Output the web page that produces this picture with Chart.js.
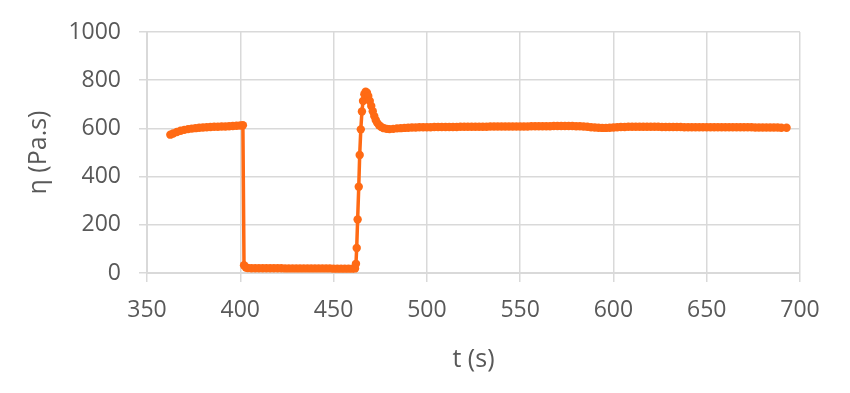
<!DOCTYPE html>
<html>
<head>
<meta charset="utf-8">
<script src="https://cdn.jsdelivr.net/npm/chart.js@4/dist/chart.umd.min.js"></script>
<style>
  html, body { margin: 0; padding: 0; background: #ffffff; }
  #wrap { width: 850px; height: 393px; position: relative; }
</style>
</head>
<body>
<div id="wrap"><canvas id="c" width="850" height="393"></canvas></div>
<script>
// Time (s) readings of the viscosity curve
const timeValues = [
  362.5, 364, 366, 368, 370, 372, 374, 376, 378, 380, 382, 384, 386, 388, 390, 392, 394, 396, 398, 400, 401.4,
  402.0, 403, 404, 406, 408, 410, 412, 414, 416, 418, 420, 422, 424, 426, 428, 430, 432, 434, 436, 438, 440,
  442, 444, 446, 448, 450, 452, 454, 456, 458, 460, 461.5,
  462.0, 462.4, 462.9, 463.5, 464.0, 464.6, 465.2, 465.8, 466.5, 467.2, 467.9, 468.6, 469.4, 470.2, 471.0,
  471.8, 472.6, 473.4, 474.4, 475.6, 477, 478.5, 480, 482, 484, 486, 488,
  490, 492, 494, 496, 498, 500, 502, 504, 506, 508, 510, 512, 514, 516, 518, 520, 522, 524, 526, 528,
  530, 532, 534, 536, 538, 540, 542, 544, 546, 548, 550, 552, 554, 556, 558, 560, 562, 564, 566, 568,
  570, 572, 574, 576, 578, 580, 582, 584, 586, 588, 590, 592, 594, 596, 598, 600, 602, 604, 606, 608,
  610, 612, 614, 616, 618, 620, 622, 624, 626, 628, 630, 632, 634, 636, 638, 640, 642, 644, 646, 648,
  650, 652, 654, 656, 658, 660, 662, 664, 666, 668, 670, 672, 674, 676, 678, 680, 682, 684, 686, 688,
  690, 692.8
];
// Viscosity η (Pa.s) readings
const etaValues = [
  574, 579, 585, 590, 594, 597, 599, 601, 603, 604, 605, 606, 607, 607, 608, 608, 609, 610, 611, 612, 613,
  32, 23, 21, 20, 20, 20, 20, 20, 20, 20, 20, 20, 19, 19, 19, 19, 19, 19, 19, 19, 19,
  19, 19, 19, 19, 18, 18, 18, 18, 18, 18, 19,
  38, 104, 222, 358, 490, 596, 670, 714, 742, 752, 748, 734, 714, 693, 671,
  651, 635, 623, 613, 606, 601, 598, 597, 598, 600, 601, 602,
  603, 604, 604, 605, 605, 605, 605, 606, 606, 606, 606, 606, 606, 606, 607, 607, 607, 607, 607, 607,
  607, 607, 608, 608, 608, 608, 608, 608, 608, 608, 608, 608, 608, 609, 609, 609, 609, 609, 609, 610,
  610, 610, 610, 610, 610, 609, 609, 608, 607, 605, 604, 603, 602, 602, 603, 604, 605, 606, 606, 607,
  607, 607, 607, 607, 607, 607, 607, 607, 606, 606, 606, 606, 606, 606, 605, 605, 605, 605, 605, 605,
  605, 605, 605, 605, 605, 605, 605, 605, 605, 605, 605, 605, 605, 604, 604, 604, 604, 604, 604, 604,
  603, 603
];
const xTicks = [350, 400, 450, 500, 550, 600, 650, 700];
const yTicks = [0, 200, 400, 600, 800, 1000];

const points = timeValues.map((t, i) => ({ x: t, y: etaValues[i] }));

const orange = '#FF6A14';
const gridGray = '#d9d9d9';
const textGray = '#595959';
const fontFamily = '"Open Sans", Lato, sans-serif';

new Chart(document.getElementById('c'), {
  type: 'scatter',
  data: {
    datasets: [{
      data: points,
      showLine: true,
      borderColor: orange,
      borderWidth: 3.5,
      backgroundColor: orange,
      pointBackgroundColor: orange,
      pointBorderWidth: 0,
      pointRadius: 4.2,
      tension: 0
    }]
  },
  options: {
    responsive: false,
    animation: false,
    devicePixelRatio: 1,
    layout: { padding: { left: 0, top: 32, right: 50, bottom: 0 } },
    plugins: { legend: { display: false }, tooltip: { enabled: false } },
    scales: {
      x: {
        type: 'linear',
        min: xTicks[0],
        max: xTicks[xTicks.length - 1],
        afterBuildTicks: s => { s.ticks = xTicks.map(v => ({ value: v })); },
        afterFit: s => { s.height = 120; },
        grid: { color: gridGray, lineWidth: 1.5, tickLength: 9, drawTicks: true },
        border: { color: gridGray, width: 2 },
        ticks: {
          color: textGray, font: { family: fontFamily, size: 23 }, padding: 15, maxRotation: 0,
          callback: v => String(v)
        },
        title: {
          display: true, text: 't (s)', color: textGray,
          font: { family: fontFamily, size: 25 },
          padding: { top: 0, bottom: 18 }
        }
      },
      y: {
        type: 'linear',
        min: yTicks[0],
        max: yTicks[yTicks.length - 1],
        afterBuildTicks: s => { s.ticks = yTicks.map(v => ({ value: v })); },
        afterFit: s => { s.width = 147; },
        grid: { color: gridGray, lineWidth: 1.5, tickLength: 8, drawTicks: true },
        border: { color: gridGray, width: 2 },
        ticks: {
          color: textGray, font: { family: fontFamily, size: 23 }, padding: 18,
          callback: v => String(v)
        },
        title: {
          display: true, text: 'η (Pa.s)', color: textGray,
          font: { family: fontFamily, size: 25 },
          padding: { top: 24, bottom: 0 }
        }
      }
    }
  }
});
</script>
</body>
</html>
